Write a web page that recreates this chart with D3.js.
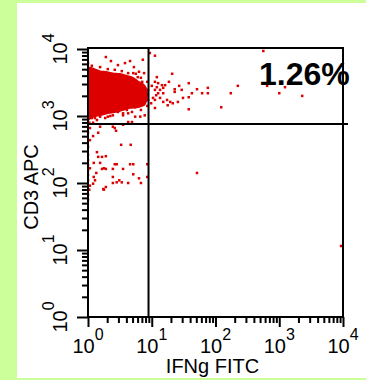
<!DOCTYPE html>
<html>
<head>
<meta charset="utf-8">
<script src="https://cdn.jsdelivr.net/npm/d3@7"></script>
<style>
html, body { margin: 0; padding: 0; background: #ccff99; }
svg { display: block; }
</style>
</head>
<body>
<div id="chart"></div>
<script>
// values are log10 of fluorescence: [IFNg FITC, CD3 APC]
const decades = [0, 1, 2, 3, 4];
const gateIFNg = 8.9;
const gateCD3 = 760;
const quadrantLabel = "1.26%";

// outline of the saturated CD3+ IFNg- cloud
const coreOutline = [
    [0.00, 3.72], [0.11, 3.70], [0.19, 3.67], [0.28, 3.66], [0.39, 3.64], [0.50, 3.63],
    [0.61, 3.60], [0.71, 3.57], [0.78, 3.52], [0.86, 3.48], [0.91, 3.42], [0.93, 3.31],
    [0.91, 3.21], [0.88, 3.16], [0.78, 3.13], [0.66, 3.12], [0.55, 3.09], [0.44, 3.06],
    [0.31, 3.04], [0.19, 3.01], [0.09, 2.99], [0.03, 2.96], [0.00, 2.94]
];

// single events around the cloud
const events = [
    // upper left, around the cloud
    [0.00, 3.79], [0.28, 3.88], [0.36, 3.82], [0.47, 3.76], [0.58, 3.79], [0.66, 3.82],
    [0.72, 3.73], [0.80, 3.66], [0.88, 3.64], [0.86, 3.84], [0.71, 3.64], [0.78, 3.58],
    [0.85, 3.51], [0.89, 3.43], [0.86, 3.31], [0.89, 3.21], [0.80, 3.19], [0.74, 3.13],
    [0.69, 3.06], [0.61, 3.09], [0.55, 3.04], [0.47, 3.06], [0.39, 3.01], [0.31, 2.99],
    [0.27, 2.97], [0.19, 2.99], [0.11, 2.97], [0.08, 2.90], [0.19, 2.84], [0.03, 2.82],
    [0.42, 2.82], [0.55, 2.87], [0.69, 2.91], [0.82, 2.99], [0.89, 3.01], [0.74, 2.99],
    [0.63, 2.91], [0.39, 2.84], [0.06, 2.97], [0.55, 3.01], [0.00, 2.82],
    [0.06, 3.75], [0.19, 3.73], [0.31, 3.70], [0.42, 3.69], [0.53, 3.67], [0.63, 3.64],
    [0.75, 3.63], [0.83, 3.57], [0.93, 3.51], [0.94, 3.39], [0.94, 3.24], [0.93, 3.15],
    [0.83, 3.09], [0.63, 3.04], [0.35, 3.00], [0.14, 2.94], [0.02, 2.90],
    // upper right
    [0.97, 3.94], [1.05, 3.90], [1.32, 3.63], [1.08, 3.58], [1.05, 3.51], [1.10, 3.49],
    [1.16, 3.46], [1.08, 3.43], [1.13, 3.39], [1.05, 3.39], [1.18, 3.34], [1.07, 3.31],
    [1.13, 3.27], [1.05, 3.24], [1.18, 3.21], [1.24, 3.24], [1.27, 3.51], [1.36, 3.40],
    [1.36, 3.36], [1.43, 3.45], [1.47, 3.39], [1.49, 3.27], [1.41, 3.21], [1.33, 3.19],
    [1.29, 3.21], [1.58, 3.49], [1.63, 3.34], [1.58, 3.28], [1.71, 3.40], [1.79, 3.34],
    [1.88, 3.42], [1.88, 3.34], [1.58, 3.10], [2.09, 3.13], [2.24, 3.34], [2.35, 3.45],
    [1.05, 3.12], [1.25, 3.16], [2.75, 3.97], [2.81, 3.45], [3.00, 3.34], [3.09, 3.43],
    [3.36, 3.30], [1.21, 3.46], [1.02, 3.27], [1.00, 3.45], [0.99, 3.19], [1.10, 3.34],
    [1.18, 3.42],
    // lower left
    [0.08, 2.70], [0.16, 2.75], [0.03, 2.64], [0.44, 2.78], [0.52, 2.57], [0.67, 2.57],
    [0.00, 2.42], [0.16, 2.39], [0.22, 2.39], [0.28, 2.40], [0.09, 2.30], [0.22, 2.21],
    [0.25, 2.22], [0.28, 2.21], [0.42, 2.28], [0.45, 2.28], [0.66, 2.28], [0.71, 2.28],
    [0.93, 2.28], [0.13, 2.15], [0.39, 2.21], [0.55, 2.21], [0.09, 2.09], [0.39, 2.09],
    [0.49, 2.04], [0.53, 2.01], [0.39, 2.00], [0.63, 2.00], [0.71, 2.13], [0.80, 2.07],
    [0.83, 2.00], [0.93, 2.09], [0.08, 1.99], [0.02, 1.90], [0.25, 1.90], [0.00, 1.82],
    [0.03, 1.96], [0.00, 2.75], [0.00, 2.64], [0.00, 2.54], [0.00, 2.34], [0.00, 2.27],
    [0.00, 2.19], [0.00, 2.12], [0.00, 2.04], [0.00, 1.75], [0.14, 2.46], [0.03, 2.22],
    [0.19, 2.30], [0.11, 2.04], [0.45, 2.01], [0.28, 1.94], [0.24, 1.91],
    // lower right
    [1.71, 2.15], [3.97, 1.06]
];

const width = 366;
const height = 380;
const red = "#dc0000";
const font = "'Liberation Sans', Arial, sans-serif";

const svg = d3.select("#chart").append("svg")
    .attr("width", width)
    .attr("height", height);

svg.append("rect")
    .attr("width", width).attr("height", height)
    .style("fill", "#ccff99");
svg.append("rect")
    .attr("x", 17).attr("y", 3)
    .attr("width", width - 17).attr("height", 375)
    .style("fill", "white");

var x = d3.scaleLog().domain([1, 1e4]).range([88, 343]);
var y = d3.scaleLog().domain([1, 1e4]).range([317, 49]);

const minors = [];
decades.slice(0, -1).forEach(d => {
    for (let k = 2; k <= 9; k++) minors.push(k * Math.pow(10, d));
});
const majors = decades.map(d => Math.pow(10, d));

svg.append("defs").append("clipPath").attr("id", "plotClip")
    .append("rect")
    .attr("x", x(1)).attr("y", y(1e4) - 1)
    .attr("width", x(1e4) - x(1)).attr("height", y(1) - y(1e4) + 1);

// events
const plotArea = svg.append("g").attr("clip-path", "url(#plotClip)");
plotArea.append("path")
    .datum(coreOutline)
    .attr("d", d3.line()
        .x(d => x(Math.pow(10, d[0])))
        .y(d => y(Math.pow(10, d[1])))
        .curve(d3.curveCatmullRomClosed))
    .style("fill", red)
    .style("stroke", red)
    .style("stroke-width", 1.5);
plotArea.selectAll("rect.event")
    .data(events)
    .enter().append("rect")
    .attr("class", "event")
    .attr("x", d => x(Math.pow(10, d[0])) - 1.25)
    .attr("y", d => y(Math.pow(10, d[1])) - 1.25)
    .attr("width", 2.5)
    .attr("height", 2.5)
    .style("fill", red);

// axes ticks (outward)
function styleTicks(g) {
    g.select(".domain").remove();
    g.selectAll("line").style("stroke", "black").style("stroke-width", 2);
    g.selectAll("text").remove();
}
svg.append("g")
    .attr("transform", "translate(" + x(1) + ",0)")
    .call(d3.axisLeft(y).tickValues(minors).tickSize(6).tickFormat(""))
    .call(styleTicks);
svg.append("g")
    .attr("transform", "translate(" + x(1) + ",0)")
    .call(d3.axisLeft(y).tickValues(majors).tickSize(11).tickFormat(""))
    .call(styleTicks);
svg.append("g")
    .attr("transform", "translate(0," + y(1) + ")")
    .call(d3.axisBottom(x).tickValues(minors).tickSize(6).tickFormat(""))
    .call(styleTicks);
svg.append("g")
    .attr("transform", "translate(0," + y(1) + ")")
    .call(d3.axisBottom(x).tickValues(majors).tickSize(10).tickFormat(""))
    .call(styleTicks);

// tick labels 10^n
const yLabels = svg.append("g").selectAll("text")
    .data(decades)
    .enter().append("text")
    .attr("transform", d => "translate(67," + y(Math.pow(10, d)) + ") rotate(-90)")
    .attr("text-anchor", "middle")
    .style("font-family", font)
    .style("font-size", "20px")
    .text("10");
yLabels.append("tspan")
    .attr("dy", -13)
    .style("font-size", "16px")
    .text(d => d);

const xLabels = svg.append("g").selectAll("text")
    .data(decades)
    .enter().append("text")
    .attr("x", d => x(Math.pow(10, d)))
    .attr("y", 353)
    .attr("text-anchor", "middle")
    .style("font-family", font)
    .style("font-size", "20px")
    .text("10");
xLabels.append("tspan")
    .attr("dy", -13)
    .style("font-size", "16px")
    .text(d => d);

// plot frame
svg.append("rect")
    .attr("x", x(1)).attr("y", y(1e4) - 1)
    .attr("width", x(1e4) - x(1))
    .attr("height", y(1) - y(1e4) + 1)
    .style("fill", "none")
    .style("stroke", "black")
    .style("stroke-width", 2);

// quadrant gates
svg.append("line")
    .attr("x1", x(gateIFNg)).attr("x2", x(gateIFNg))
    .attr("y1", y(1e4) - 1).attr("y2", y(1))
    .style("stroke", "black").style("stroke-width", 2);
svg.append("line")
    .attr("x1", x(1)).attr("x2", x(1e4) + 5)
    .attr("y1", y(gateCD3)).attr("y2", y(gateCD3))
    .style("stroke", "black").style("stroke-width", 2);

svg.append("text")
    .attr("x", 259).attr("y", 85)
    .style("font-family", font)
    .style("font-size", "32px")
    .style("font-weight", "bold")
    .text(quadrantLabel);

// axis titles
svg.append("text")
    .attr("transform", "translate(38,187) rotate(-90)")
    .attr("text-anchor", "middle")
    .style("font-family", font)
    .style("font-size", "20px")
    .text("CD3 APC");
svg.append("text")
    .attr("x", 212.5).attr("y", 373)
    .attr("text-anchor", "middle")
    .style("font-family", font)
    .style("font-size", "20px")
    .text("IFNg FITC");
</script>
</body>
</html>
